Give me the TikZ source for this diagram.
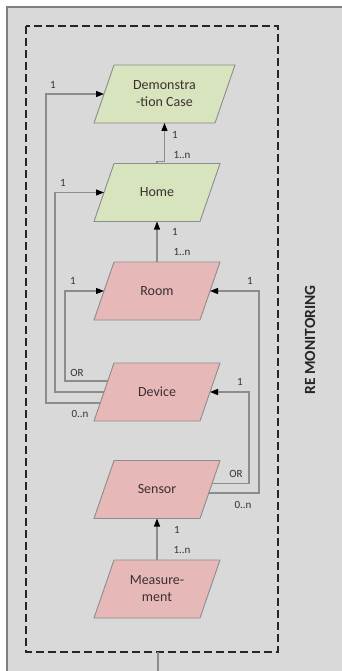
\documentclass[tikz,border=0pt]{standalone}
\usepackage{fontspec}
\setmainfont{Carlito}
\usetikzlibrary{arrows.meta,calc}
\pgfdeclarelayer{bg}
\pgfsetlayers{bg,main}
\definecolor{bggray}{HTML}{D9D9D9}
\definecolor{framegray}{HTML}{7F7F7F}
\definecolor{linegray}{HTML}{8C8C8C}
\definecolor{entgreen}{HTML}{D7E4BD}
\definecolor{entpink}{HTML}{E6B9B8}
\definecolor{txt}{HTML}{3A3030}
\tikzset{
  ent/.style={rectangle, minimum width=126pt, minimum height=58pt,
    inner sep=0pt, outer sep=0pt,
    font=\fontsize{14}{17}\selectfont, text=txt, align=center},
  para/.style={draw=linegray, line width=0.9pt},
  conn/.style={draw=linegray, line width=1.1pt,
    -{Triangle[length=8pt,width=6pt,color=black]}},
  lbl/.style={font=\fontsize{11}{13}\selectfont, text=txt, inner sep=0pt}
}
\newcommand{\paraof}[2]{%
  \begin{pgfonlayer}{bg}
  \draw[para, fill=#2] (#1.south west) -- ([xshift=20pt]#1.north west) -- (#1.north east) -- ([xshift=-20pt]#1.south east) -- cycle;
  \end{pgfonlayer}}
\begin{document}
\begin{tikzpicture}[x=1pt,y=-1pt]
\useasboundingbox (0,0) rectangle (341,671);
\begin{pgfonlayer}{bg}
\fill[white] (0,0) rectangle (341,671);
\draw[framegray, line width=2pt, fill=bggray] (7,7) rectangle (360,690);
\draw[black!85, line width=1.3pt, dash pattern=on 8pt off 4pt] (26,26) rectangle (278,652);
\end{pgfonlayer}
\coordinate (dbot) at (158,652);
\coordinate (pbot) at (158,671);
\draw[linegray, line width=2pt] (dbot) -- (pbot);

\node[ent, minimum width=141pt] (demo) at (164.5,94) {Demonstra\\-tion Case};
\node[ent] (home) at (157,192.5) {Home};
\node[ent] (room) at (157,291) {Room};
\node[ent] (dev) at (157,392) {Device};
\node[ent] (sen) at (157,489.5) {Sensor};
\node[ent] (meas) at (157,589) {Measure-\\ment};
\paraof{demo}{entgreen}
\paraof{home}{entgreen}
\paraof{room}{entpink}
\paraof{dev}{entpink}
\paraof{sen}{entpink}
\paraof{meas}{entpink}

\node[font=\bfseries\fontsize{15.5}{18}\selectfont, text=black!85, rotate=90] (title) at (310,340) {RE MONITORING};

% vertical connectors
\draw[conn] (home.north) -- ++(0,-2) -| (demo.south);
\draw[conn] (room.north) -- (home.south);
\draw[conn] (meas.north) -- (sen.south);

% edge points
\coordinate (d1) at ($(dev.south west)!0.69!([xshift=20pt]dev.north west)$);
\coordinate (d2) at ($(dev.south west)!0.5!([xshift=20pt]dev.north west)$);
\coordinate (d3) at ($(dev.south west)!0.31!([xshift=20pt]dev.north west)$);
\coordinate (demoL) at ([xshift=10pt]demo.west);
\coordinate (homeL) at ([xshift=10pt]home.west);
\coordinate (roomL) at ([xshift=10pt]room.west);
\coordinate (roomR) at ([xshift=-10pt]room.east);
\coordinate (devR) at ([xshift=-10pt]dev.east);
\coordinate (s1) at ($([xshift=-20pt]sen.south east)!0.61!(sen.north east)$);
\coordinate (s2) at ($([xshift=-20pt]sen.south east)!0.44!(sen.north east)$);
\coordinate (xL1) at (46,0);
\coordinate (xL2) at (55,0);
\coordinate (xL3) at (65,0);
\coordinate (xR1) at (249,0);
\coordinate (xR2) at (259,0);

\draw[conn] (d3) -- (d3 -| xL1) |- (demoL);
\draw[conn] (d2) -- (d2 -| xL2) |- (homeL);
\draw[conn] (d1) -- (d1 -| xL3) |- (roomL);
\draw[conn] (s1) -- (s1 -| xR1) |- (devR);
\draw[conn] (s2) -- (s2 -| xR2) |- (roomR);

% labels
\node[lbl] (l1) at (53,85) {1};
\node[lbl] (l2) at (63,183) {1};
\node[lbl] (l3) at (73,281) {1};
\node[lbl] (l4) at (77,373) {OR};
\node[lbl] (l5) at (80,414) {0..n};
\node[lbl] (l6) at (175,135) {1};
\node[lbl] (l7) at (182,155) {1..n};
\node[lbl] (l8) at (175,232) {1};
\node[lbl] (l9) at (182,252) {1..n};
\node[lbl] (l10) at (250,281) {1};
\node[lbl] (l11) at (240,382) {1};
\node[lbl] (l12) at (236,474) {OR};
\node[lbl] (l13) at (243,505) {0..n};
\node[lbl] (l14) at (177,530) {1};
\node[lbl] (l15) at (182,550) {1..n};
\end{tikzpicture}
\end{document}
